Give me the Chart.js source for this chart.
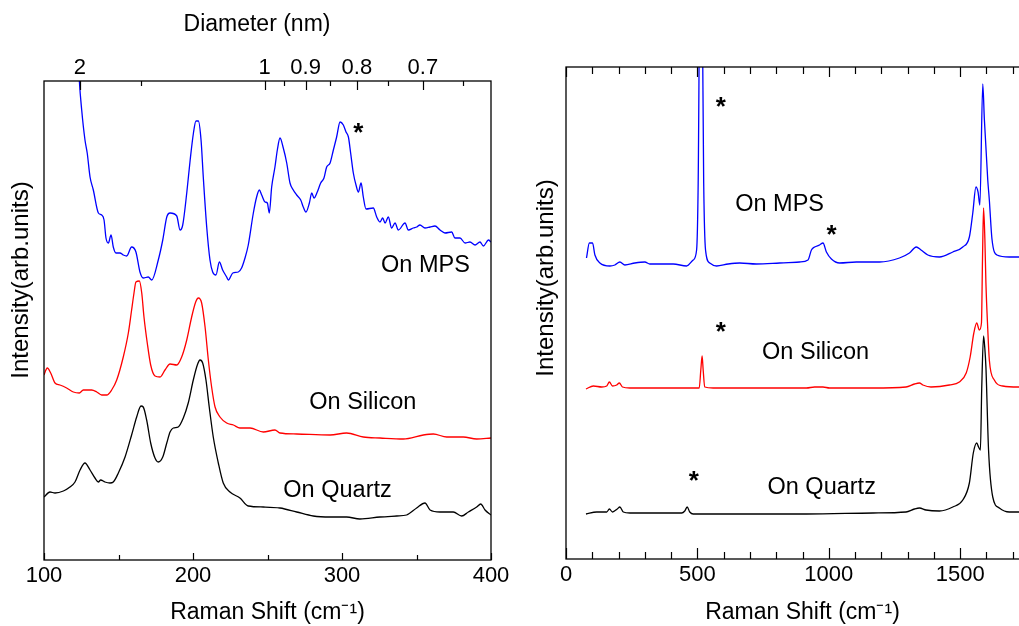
<!DOCTYPE html>
<html>
<head>
<meta charset="utf-8">
<title>Raman spectra of SWNTs</title>
<script src="https://cdn.jsdelivr.net/npm/chart.js@4.4.1/dist/chart.umd.min.js"></script>
<style>
  html, body { margin: 0; padding: 0; background: #fff; }
  body { width: 1019px; height: 626px; overflow: hidden; position: relative; }
  canvas { position: absolute; top: 0; }
  #rbm { left: 0; }
  #full { left: 520px; }
</style>
</head>
<body>
<canvas id="rbm" width="512" height="626"></canvas>
<canvas id="full" width="540" height="626"></canvas>
<script>
const FONT = '"Liberation Sans", Arial, sans-serif';

// ---- left panel: RBM region, intensity in arb. units ----
const rbmShiftMPS = [122, 123.7, 125.3, 127.5, 129, 130.9, 133.1, 136.5, 138.7, 140.3, 141.6, 143.2, 145, 146.5, 148.3, 151, 153.2, 155.5, 158.8, 161.7,
    164.4, 166.6, 170, 172.3, 176.7, 179.7, 182.4, 184.6, 189.1, 191.3, 193.1, 195.8, 198.1, 200.3, 202, 203.6, 205.4, 206.9, 209.2, 211.4,
    213.2, 215.4, 217.7, 219.9, 222.6, 223.7, 226.7, 230.4, 232.6, 234.9, 237.1, 240.5, 242.7, 244.5, 246.1, 248.3, 249.9, 251.2, 252.8, 255,
    256.6, 258.4, 260.6, 262.9, 265.1, 267.3, 269.6, 272.3, 274, 275.8, 278.1, 279.7, 281.2, 283.4, 285.7, 287.9, 289.7, 292, 294.2, 296.4,
    298.7, 300.9, 302.7, 304.3, 305.8, 307.6, 309.4, 311, 312.8, 314.3, 316.1, 321, 323.3, 325.5, 327.3, 328.9, 331.1, 333.3, 335.6, 337.8,
    342.3, 344.5, 347.9, 350.2, 352.3, 355.7, 359.1, 362.4, 365.8, 369.1, 373.6, 375.8, 379.2, 382.6, 385.9, 389.3, 392.6, 394.9, 398.3, 400];
const rbmMPS = [540, 480, 450, 420, 407, 383, 370, 347, 345, 340, 322, 317, 325, 313, 307, 307, 305, 304, 313, 308,
    288, 282, 283, 280, 300, 320, 343, 347, 344, 330, 335, 367, 400, 427, 439, 439, 420, 383, 333, 300,
    288, 285, 298, 290, 283, 280, 287, 288, 292, 302, 315, 347, 363, 370, 365, 358, 357, 347, 373, 393,
    410, 422, 412, 397, 377, 370, 365, 360, 353, 348, 357, 367, 362, 368, 377, 382, 393, 397, 410, 423,
    438, 435, 428, 423, 407, 387, 375, 368, 377, 363, 351, 352, 343, 338, 342, 337, 343, 332, 337, 330,
    337, 330, 332, 333, 335, 332, 333, 334, 330, 327, 328, 322, 322, 317, 318, 315, 318, 314, 320, 318];

const rbmShiftSi = [100, 102.2, 104.5, 107.4, 110.7, 115.2, 119.7, 123.7, 126.4, 132, 135.4, 138.7, 142.1, 145.4, 148.8,
    153.2, 156.6, 158.8, 160.4, 161.7, 164, 165.6, 167.1, 169.3, 171.6, 174.5, 177.9, 181.2, 184.6, 189.1,
    192.4, 195.8, 199.1, 201.8, 203.6, 205.8, 208.1, 210.3, 212.5, 214.8, 218.1, 222.6, 227.1, 231.5, 238.3,
    247.2, 255, 258.4, 269.6, 292, 303.1, 314.3, 325.5, 341.2, 354.6, 361.3, 370.3, 381.4, 390.4, 400];
const rbmSi = [185, 192, 187, 177, 175, 172, 168, 167, 170, 170, 168, 165, 165, 170, 180,
    203, 227, 250, 267, 278, 279, 267, 243, 217, 195, 184, 183, 190, 196, 195,
    203, 220, 243, 258, 262, 257, 233, 200, 173, 153, 143, 137, 135, 132, 132,
    128, 130, 127, 126, 125, 127, 123, 122, 121, 125, 126, 123, 123, 121, 122];

const rbmShiftQz = [100, 104, 107.4, 113, 117.4, 120.8, 124.2, 127.5, 130.9, 134.2, 136.5, 138, 140.9, 144.3, 146.5,
    149.9, 154.4, 158.8, 162.2, 165.1, 166.6, 168.9, 171.6, 174.5, 176.7, 179.7, 182.4, 184.6, 186.8, 190.1,
    193.5, 196.8, 200.2, 202.9, 204.7, 206.5, 208.7, 210.9, 213.6, 217, 220.3, 224.8, 231.5, 237.1, 247.2,
    258.4, 269.6, 280.7, 292, 303.1, 312, 325.5, 336.7, 343.4, 350.1, 355.7, 359.1, 365.8, 374.7, 380.3,
    384.8, 390.4, 393.1, 396, 400];
const rbmQz = [63, 68, 67, 69, 73, 78, 90, 97, 90, 82, 78, 80, 78, 77, 78,
    87, 103, 125, 143, 154, 153, 140, 117, 102, 98, 103, 117, 128, 132, 133,
    142, 157, 180, 195, 200, 197, 180, 153, 123, 97, 77, 68, 62, 54, 53,
    52, 48, 44, 43, 43, 41, 43, 44, 45, 52, 57, 50, 48, 48, 44,
    48, 53, 56, 50, 45];

// ---- right panel: full spectrum ----
const fullShiftMPS = [78, 89, 101, 110, 129, 167, 186, 205, 224, 262, 300, 319, 408, 459, 484, 497, 503, 513, 524, 531,
    547, 573, 617, 661, 724, 813, 889, 921, 934, 946, 965, 978, 991, 1010, 1041, 1105, 1193, 1269, 1307, 1333,
    1351, 1377, 1421, 1472, 1510, 1535, 1548, 1560, 1568, 1575, 1586, 1592, 1605, 1611, 1621, 1640, 1687, 1721, 1800];
const fullMPS = [301, 316, 316, 304, 296, 293, 294, 297, 294, 296, 297, 295, 295, 293, 299, 309, 376, 700, 376, 309,
    296, 293, 295, 296, 295, 296, 297, 299, 309, 312, 314, 316, 307, 300, 296, 297, 297, 301, 306, 312,
    309, 304, 302, 307, 312, 322, 346, 372, 367, 354, 475, 440, 379, 359, 320, 304, 302, 302, 302];

const fullShiftSi = [76, 104, 136, 155, 165, 177, 193, 203, 215, 243, 408, 507, 513, 518, 522, 528, 560, 788, 915, 946,
    978, 1003, 1168, 1294, 1326, 1345, 1358, 1389, 1459, 1497, 1523, 1538, 1552, 1563, 1573, 1581, 1585, 1589, 1594, 1598,
    1605, 1611, 1630, 1662, 1721, 1800];
const fullSi = [170, 173, 172, 173, 177, 173, 174, 176, 172, 171, 171, 171, 189, 203, 189, 172, 171, 171, 171, 172,
    172, 171, 171, 172, 175, 176, 174, 172, 174, 177, 186, 202, 226, 236, 229, 236, 300, 351, 320, 276,
    230, 199, 179, 173, 172, 172];

const fullShiftQz = [76, 117, 155, 165, 177, 195, 205, 218, 243, 345, 440, 452, 461, 471, 484, 661, 915, 1168, 1294, 1326,
    1345, 1370, 1421, 1472, 1510, 1535, 1550, 1563, 1570, 1577, 1582, 1589, 1594, 1598, 1608, 1624, 1649, 1687, 1721, 1800];
const fullQz = [45, 47, 47, 50, 47, 50, 52, 47, 46, 46, 46, 48, 52, 47, 45, 45, 45, 46, 47, 50,
    51, 49, 48, 52, 59, 76, 106, 116, 112, 109, 170, 223, 210, 192, 109, 62, 51, 47, 47, 47];

// ---- axes ----
const rbmTicks = [100, 150, 200, 250, 300, 350, 400];
const fullTicks = [0, 100, 200, 300, 400, 500, 600, 700, 800, 900, 1000, 1100, 1200, 1300, 1400, 1500, 1600, 1700, 1800];
// top axis of the left panel, RBM relation shift = 248 / d
const diameters = [2, 1.5, 1, 0.95, 0.9, 0.85, 0.8, 0.75, 0.7, 0.65];
const diameterLabels = ['2', '', '1', '', '0.9', '', '0.8', '', '0.7', ''];

// text placed in data coordinates
const rbmNotes = [
    { text: '*', x: 311, y: 432 },
    { text: 'On MPS', x: 356, y: 294 },
    { text: 'On Silicon', x: 314, y: 157 },
    { text: 'On Quartz', x: 297, y: 69 }
];
const fullNotes = [
    { text: '*', x: 589, y: 457 },
    { text: 'On MPS', x: 813, y: 354 },
    { text: '*', x: 1011, y: 329 },
    { text: '*', x: 589, y: 232 },
    { text: 'On Silicon', x: 950, y: 206 },
    { text: '*', x: 486, y: 83 },
    { text: 'On Quartz', x: 973, y: 71 }
];

function line(xs, ys, color) {
    return {
        data: xs.map((x, i) => ({ x: x, y: ys[i] })),
        borderColor: color,
        borderWidth: 1.3,
        pointRadius: 0,
        cubicInterpolationMode: 'monotone'
    };
}

function xAxis(position, min, max, ticks, height, extra) {
    return Object.assign({
        type: 'linear',
        position: position,
        min: min,
        max: max,
        grid: { display: false, drawTicks: false },
        border: { display: false },
        afterBuildTicks: s => { s.ticks = ticks.map(v => ({ value: v })); },
        afterFit: s => { s.height = height; s.paddingLeft = 0; s.paddingRight = 0; }
    }, extra);
}

const tickFont = { family: FONT, size: 22 };
const titleFont = { family: FONT, size: 23 };

// frame, inward tick marks, labels and titles
function decorations(cfg) {
    return {
        id: 'decorations',
        afterDatasetsDraw(chart) {
            const ctx = chart.ctx;
            const a = chart.chartArea;
            ctx.save();
            ctx.strokeStyle = '#000';
            ctx.lineWidth = 1.3;
            ctx.strokeRect(a.left, a.top, a.right - a.left, a.bottom - a.top);
            ctx.lineWidth = 1.2;
            for (const id of ['x', 'x2']) {
                const s = chart.scales[id];
                const atTop = s.position === 'top';
                const y0 = atTop ? a.top : a.bottom;
                s.ticks.forEach((t, i) => {
                    const len = cfg.isMajor[id](t.value, i) ? cfg.tickLen[id][0] : cfg.tickLen[id][1];
                    const px = Math.round(s.getPixelForValue(t.value)) + 0.5;
                    ctx.beginPath();
                    ctx.moveTo(px, y0);
                    ctx.lineTo(px, atTop ? y0 + len : y0 - len);
                    ctx.stroke();
                });
            }
            ctx.fillStyle = '#000';
            ctx.textAlign = 'center';
            ctx.textBaseline = 'middle';
            cfg.notes.forEach(n => {
                const px = chart.scales.x.getPixelForValue(n.x);
                const py = chart.scales.y.getPixelForValue(n.y);
                if (n.text === '*') {
                    ctx.font = 'bold 26px ' + FONT;
                    ctx.fillText(n.text, px, py + 6);
                } else {
                    ctx.font = '23.5px ' + FONT;
                    ctx.fillText(n.text, px, py);
                }
            });
            if (cfg.topTitle) {
                ctx.font = '23px ' + FONT;
                ctx.fillText(cfg.topTitle.text, cfg.topTitle.x, cfg.topTitle.y);
            }
            ctx.font = '24px ' + FONT;
            ctx.translate(cfg.yTitle.x, cfg.yTitle.y);
            ctx.rotate(-Math.PI / 2);
            ctx.fillText('Intensity(arb.units)', 0, 0);
            ctx.restore();
        }
    };
}

const commonOptions = {
    responsive: false,
    animation: false,
    devicePixelRatio: 1,
    events: [],
    plugins: { legend: { display: false }, tooltip: { enabled: false } }
};

new Chart('rbm', {
    type: 'line',
    data: {
        datasets: [
            line(rbmShiftMPS, rbmMPS, '#0000ff'),
            line(rbmShiftSi, rbmSi, '#ff0000'),
            line(rbmShiftQz, rbmQz, '#000000')
        ]
    },
    options: Object.assign({}, commonOptions, {
        layout: { padding: { left: 44, right: 21, top: 0, bottom: 0 } },
        scales: {
            x: xAxis('bottom', 100, 400, rbmTicks, 66, {
                ticks: { autoSkip: false, maxRotation: 0, padding: 3, color: '#000', font: tickFont,
                    callback: v => (v % 100 === 0 ? String(v) : '') },
                title: { display: true, text: 'Raman Shift (cm\u207B\u00B9)', color: '#000', font: titleFont, padding: 0 }
            }),
            x2: xAxis('top', 100, 400, diameters.map(d => 248 / d), 81, {
                ticks: { autoSkip: false, maxRotation: 0, padding: 0, color: '#000', font: tickFont,
                    callback: (v, i) => diameterLabels[i] }
            }),
            y: { type: 'linear', display: false, min: 0, max: 479 }
        }
    }),
    plugins: [decorations({
        notes: rbmNotes,
        tickLen: { x: [7, 5], x2: [9, 5] },
        isMajor: { x: v => v % 100 === 0, x2: (v, i) => diameterLabels[i] !== '' },
        topTitle: { text: 'Diameter (nm)', x: 257, y: 25 },
        yTitle: { x: 21, y: 280 }
    })]
});

new Chart('full', {
    type: 'line',
    data: {
        datasets: [
            line(fullShiftMPS, fullMPS, '#0000ff'),
            line(fullShiftSi, fullSi, '#ff0000'),
            line(fullShiftQz, fullQz, '#000000')
        ]
    },
    options: Object.assign({}, commonOptions, {
        layout: { padding: { left: 46, right: 21, top: 0, bottom: 0 } },
        scales: {
            x: xAxis('bottom', 0, 1800, fullTicks, 67, {
                ticks: { autoSkip: false, maxRotation: 0, padding: 3, color: '#000', font: tickFont,
                    callback: v => (v % 500 === 0 ? String(v) : '') },
                title: { display: true, text: 'Raman Shift (cm\u207B\u00B9)', color: '#000', font: titleFont, padding: 0 }
            }),
            x2: xAxis('top', 0, 1800, fullTicks, 67, { ticks: { display: false } }),
            y: { type: 'linear', display: false, min: 0, max: 492 }
        }
    }),
    plugins: [decorations({
        notes: fullNotes,
        tickLen: { x: [11, 7], x2: [10, 7] },
        isMajor: { x: v => v % 500 === 0, x2: v => v % 500 === 0 },
        yTitle: { x: 26, y: 278 }
    })]
});
</script>
</body>
</html>
